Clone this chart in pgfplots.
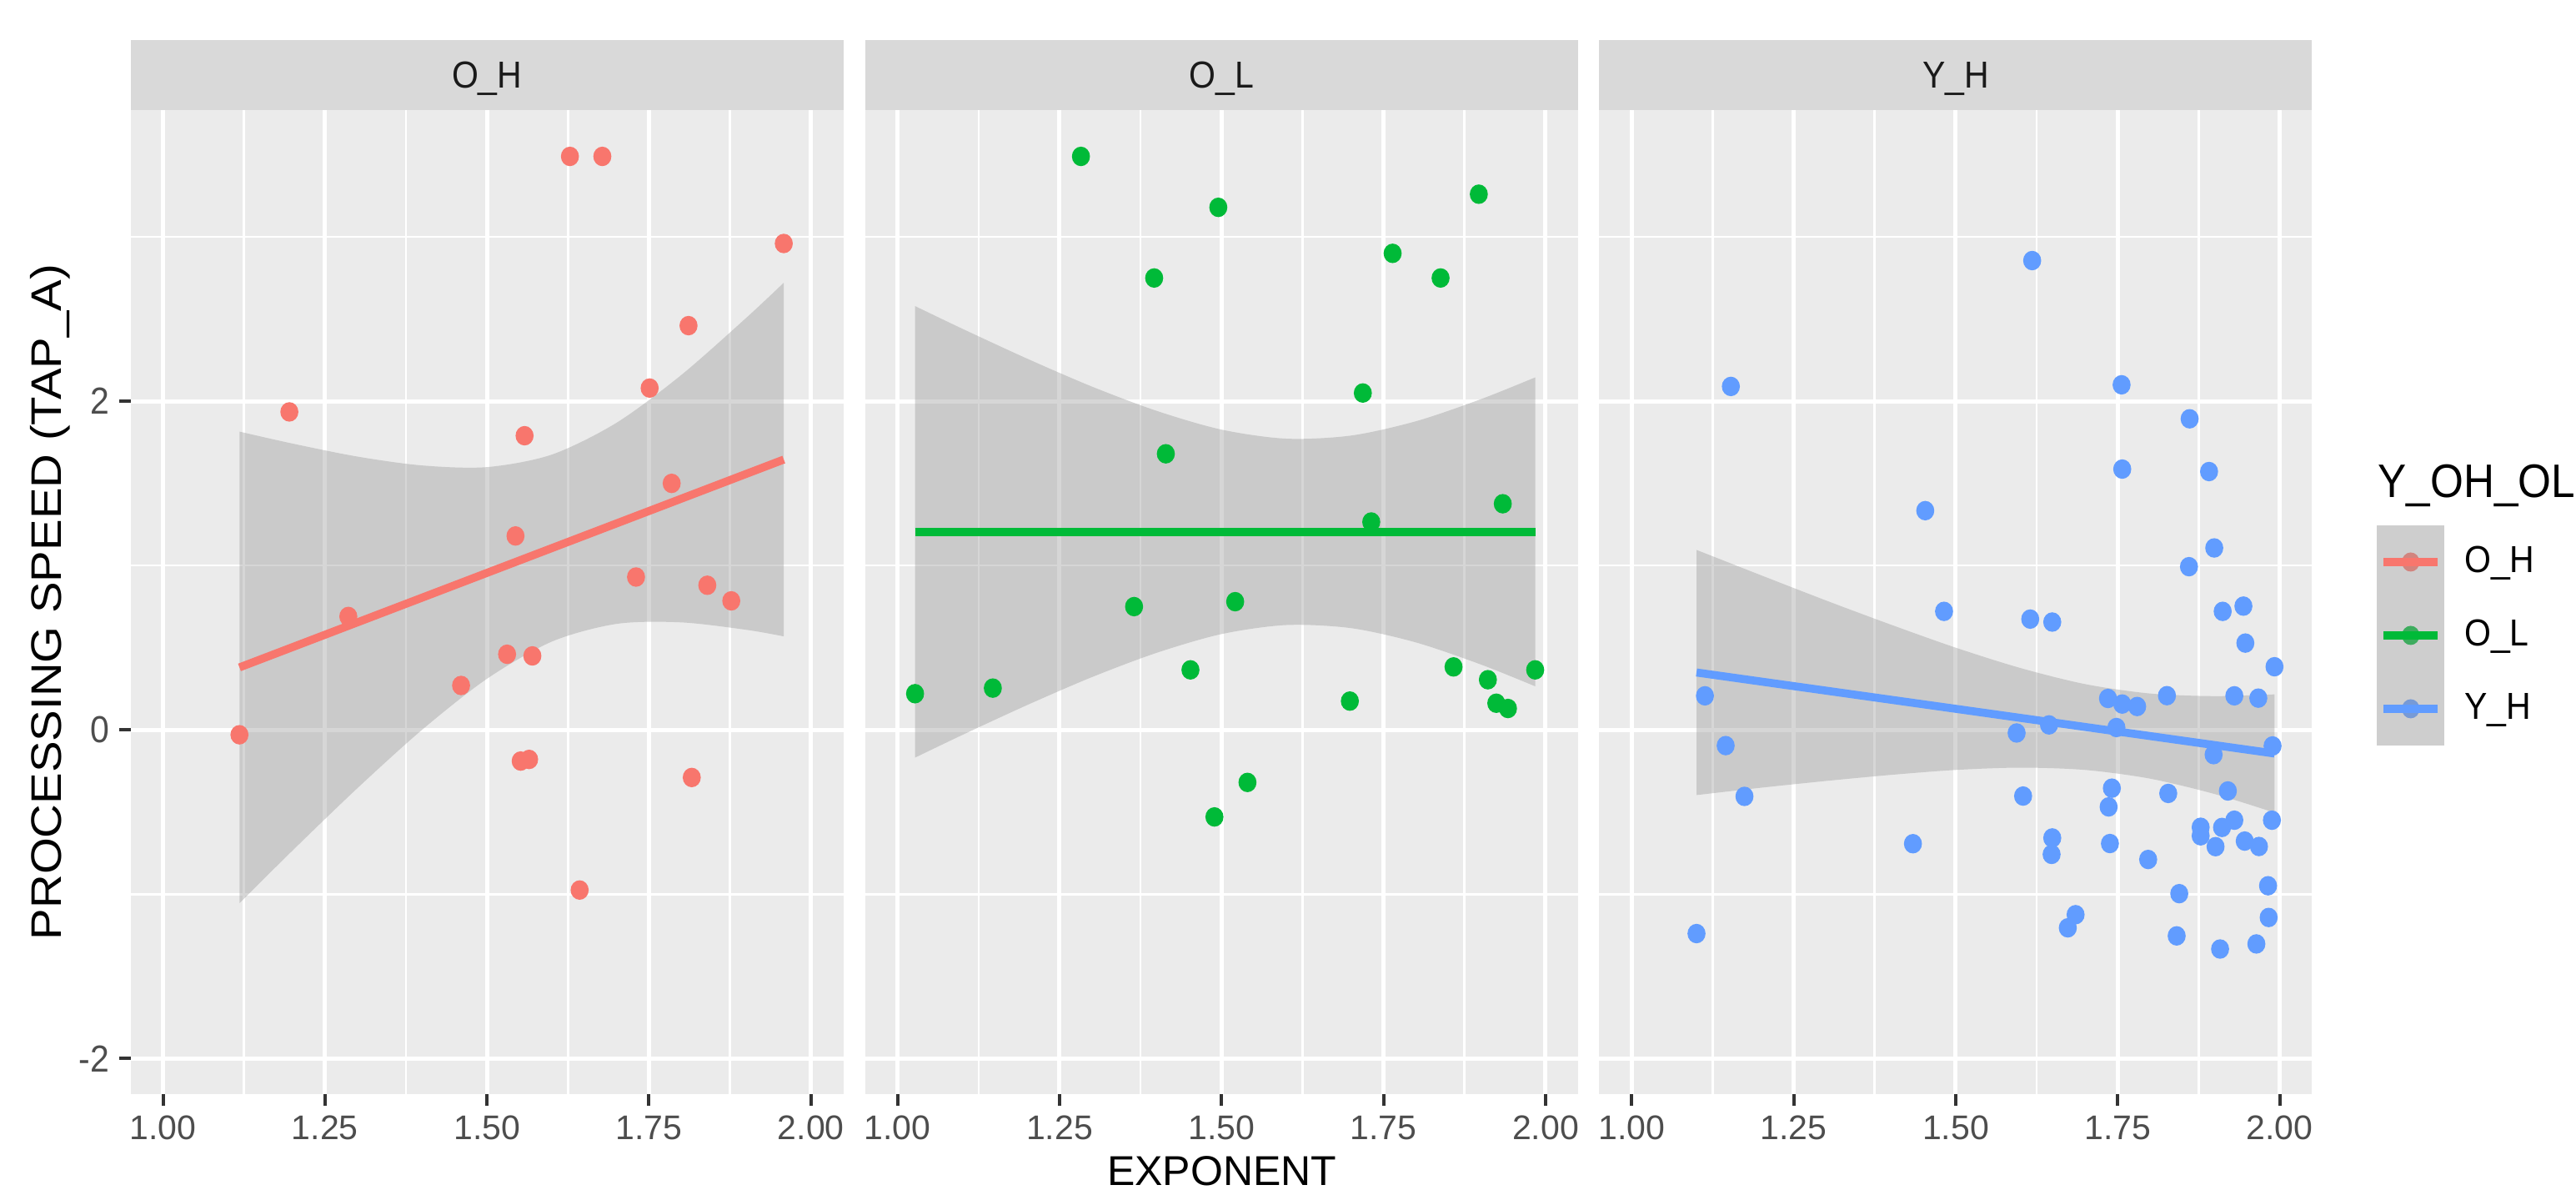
\documentclass[border=0pt]{standalone}
\usepackage{fontspec}
\setmainfont{Liberation Sans}
\usepackage{graphicx}
\usepackage{pgfplots}
\pgfplotsset{compat=1.18}
\usepgfplotslibrary{fillbetween}
\definecolor{ohcol}{HTML}{F8766D}
\definecolor{olcol}{HTML}{00BA38}
\definecolor{yhcol}{HTML}{619CFF}
\definecolor{panelbg}{HTML}{EBEBEB}
\definecolor{stripcol}{HTML}{D9D9D9}
\definecolor{striptext}{HTML}{1A1A1A}
\definecolor{ticklab}{HTML}{4D4D4D}
\definecolor{tickcol}{HTML}{333333}
\definecolor{ribbon}{HTML}{999999}
\definecolor{keybg}{HTML}{F2F2F2}
\newcommand{\tf}{\fontsize{9.84}{11.8}\selectfont}
\newcommand{\lf}{\fontsize{12.3}{14.8}\selectfont}
\newcommand{\lgd}[1]{\raisebox{0pt}[7.45pt][0pt]{\scalebox{1}[1.1]{#1}}}
\pgfplotsset{
  panel/.style={
    scale only axis, width=205.2pt, height=283.2pt, anchor=south west,
    xmin=0.95, xmax=2.05, ymin=-2.217, ymax=3.772,
    axis background/.style={fill=panelbg},
    axis line style={draw=none},
    xmajorgrids, ymajorgrids, xminorgrids, yminorgrids,
    major grid style={draw=white, line width=1.2pt},
    minor grid style={draw=white, line width=0.62pt},
    xtick={1,1.25,1.5,1.75,2}, xticklabels={1.00,1.25,1.50,1.75,2.00},
    minor xtick={1.125,1.375,1.625,1.875},
    ytick={-2,0,2}, yticklabels={-2,0,2},
    minor ytick={-1,1,3},
    tick pos=left, tick align=outside,
    major tick length=3.36pt, minor tick length=0pt,
    major tick style={draw=tickcol, line width=0.96pt},
    xticklabel style={font=\tf, text=ticklab, inner sep=0pt, anchor=north, yshift=-2.7pt},
    yticklabel style={font=\tf, text=ticklab, inner sep=0pt, anchor=east, yscale=1.1, xshift=-2.6pt},
  },
  pts/.style={only marks, mark=*, mark size=2.6pt, color=#1,
    mark options={draw=#1, draw opacity=0, fill=#1, line width=0pt, yscale=1.08}},
  fit/.style={#1, line width=2.3pt},
  band/.style={draw=none, fill=ribbon, fill opacity=0.4},
  key/.style={legend image code/.code={
    \fill[keybg, draw=none] (0pt,-10.56pt) rectangle (19.51pt,10.56pt);
    \fill[#1, draw=none] (9.755pt,0pt) ellipse [x radius=2.55pt, y radius=2.76pt];
    \fill[ribbon, draw=none, fill opacity=0.4] (0pt,-10.56pt) rectangle (19.51pt,10.56pt);
    \draw[#1, line width=2.3pt] (2pt,0pt) -- (17.5pt,0pt);}},
}
\begin{document}
\begin{tikzpicture}

% ---------------- Panel O_H ----------------
\begin{axis}[panel, at={(37.6pt,28.8pt)}]
\addplot[pts=ohcol] coordinates {
(1.118,-0.03) (1.195,1.935) (1.286,0.69) (1.460,0.27) (1.544,1.18) (1.531,0.46)
(1.558,1.79) (1.570,0.45) (1.552,-0.19) (1.565,-0.18) (1.628,3.49) (1.678,3.49)
(1.643,-0.975) (1.730,0.93) (1.751,2.08) (1.785,1.50) (1.811,2.46) (1.816,-0.29)
(1.840,0.88) (1.877,0.785) (1.958,2.96)};
\addplot[name path=u1, draw=none, smooth] coordinates {
(1.118,1.815) (1.2,1.742) (1.3,1.663) (1.4,1.609) (1.5,1.599) (1.6,1.675) (1.7,1.869) (1.8,2.160) (1.9,2.507) (1.958,2.721)};
\addplot[name path=l1, draw=none, smooth] coordinates {
(1.118,-1.055) (1.2,-0.734) (1.3,-0.355) (1.4,0.001) (1.5,0.311) (1.6,0.537) (1.7,0.645) (1.8,0.654) (1.9,0.609) (1.958,0.569)};
\addplot[band] fill between[of=u1 and l1];
\addplot[fit=ohcol] coordinates {(1.118,0.380) (1.958,1.645)};
\end{axis}

% ---------------- Panel O_L ----------------
\begin{axis}[panel, at={(249.07pt,28.8pt)}, ymajorticks=false]
\addplot[pts=olcol] coordinates {
(1.027,0.22) (1.147,0.254) (1.283,3.49) (1.365,0.75) (1.396,2.75) (1.414,1.68)
(1.452,0.365) (1.495,3.18) (1.489,-0.53) (1.521,0.78) (1.540,-0.32) (1.698,0.175)
(1.718,2.05) (1.731,1.265) (1.764,2.90) (1.838,2.75) (1.858,0.383) (1.897,3.26)
(1.911,0.305) (1.934,1.376) (1.924,0.162) (1.942,0.13) (1.984,0.365)};
\addplot[name path=u2, draw=none, smooth] coordinates {
(1.027,2.579) (1.1,2.441) (1.2,2.259) (1.3,2.089) (1.4,1.941) (1.5,1.827) (1.6,1.772) (1.7,1.791) (1.8,1.878) (1.9,2.012) (1.984,2.145)};
\addplot[name path=l2, draw=none, smooth] coordinates {
(1.027,-0.169) (1.1,-0.031) (1.2,0.151) (1.3,0.321) (1.4,0.469) (1.5,0.583) (1.6,0.638) (1.7,0.619) (1.8,0.532) (1.9,0.398) (1.984,0.265)};
\addplot[band] fill between[of=u2 and l2];
\addplot[fit=olcol] coordinates {(1.027,1.205) (1.984,1.205)};
\end{axis}

% ---------------- Panel Y_H ----------------
\begin{axis}[panel, at={(460.42pt,28.8pt)}, ymajorticks=false,
  legend style={at={(rel axis cs:1.0908,0.578)}, anchor=north west, draw=none, fill=none,
    inner sep=0pt, outer sep=0pt, row sep=0pt, column sep=5.74pt, font=\tf,
    cells={anchor=west}, nodes={inner sep=0pt, outer sep=0pt}}]
\addlegendimage{key=ohcol}
\addlegendentry{\lgd{O\_H}}
\addlegendimage{key=olcol}
\addlegendentry{\lgd{O\_L}}
\addlegendimage{key=yhcol}
\addlegendentry{\lgd{Y\_H}}
\addplot[pts=yhcol, forget plot] coordinates {
(1.100,-1.240) (1.113,0.207) (1.145,-0.096) (1.153,2.090) (1.174,-0.405) (1.434,-0.693) (1.453,1.334)
(1.482,0.721) (1.594,-0.019) (1.604,-0.403) (1.615,0.674) (1.618,2.856) (1.644,0.030) (1.648,-0.758)
(1.649,-0.658) (1.649,0.656) (1.673,-1.205) (1.685,-1.125)
(1.735,0.191) (1.736,-0.469) (1.738,-0.692) (1.741,-0.355) (1.748,0.014) (1.756,2.100) (1.757,1.587)
(1.757,0.157) (1.780,0.142) (1.797,-0.789)
(1.826,0.208) (1.828,-0.387) (1.841,-1.254) (1.845,-0.997) (1.860,0.993) (1.861,1.893) (1.878,-0.593)
(1.878,-0.645) (1.891,1.572) (1.898,-0.151) (1.899,1.107) (1.901,-0.711) (1.908,-1.334) (1.911,-0.594)
(1.912,0.721) (1.920,-0.372) (1.930,0.207) (1.930,-0.550) (1.944,0.753) (1.946,-0.677) (1.947,0.528)
(1.964,-1.303) (1.967,0.193) (1.968,-0.710) (1.982,-0.949) (1.983,-1.142) (1.988,-0.550) (1.989,-0.098)
(1.992,0.384)};
\addplot[name path=u3, draw=none, smooth, forget plot] coordinates {
(1.1,1.095) (1.2,0.940) (1.3,0.787) (1.4,0.640) (1.5,0.500) (1.6,0.376) (1.7,0.278) (1.8,0.221) (1.9,0.205) (1.992,0.216)};
\addplot[name path=l3, draw=none, smooth, forget plot] coordinates {
(1.1,-0.397) (1.2,-0.352) (1.3,-0.311) (1.4,-0.274) (1.5,-0.244) (1.6,-0.230) (1.7,-0.244) (1.8,-0.297) (1.9,-0.391) (1.992,-0.504)};
\addplot[band, forget plot] fill between[of=u3 and l3];
\addplot[fit=yhcol, forget plot] coordinates {(1.100,0.349) (1.992,-0.144)};
\end{axis}

% ---------------- strips ----------------
\fill[stripcol] (37.6pt,312pt) rectangle (242.8pt,332.16pt);
\fill[stripcol] (249.07pt,312pt) rectangle (454.27pt,332.16pt);
\fill[stripcol] (460.42pt,312pt) rectangle (665.62pt,332.16pt);
\node[anchor=base, font=\tf, text=striptext, yscale=1.1, inner sep=0pt] at (140.2pt,318.24pt) {O\_H};
\node[anchor=base, font=\tf, text=striptext, yscale=1.1, inner sep=0pt] at (351.67pt,318.24pt) {O\_L};
\node[anchor=base, font=\tf, text=striptext, yscale=1.1, inner sep=0pt] at (563.02pt,318.24pt) {Y\_H};

% ---------------- titles ----------------
\node[anchor=base, inner sep=0pt] at (351.77pt,2.6pt) {\fontsize{12}{14.4}\selectfont EXPONENT};
\node[rotate=90, anchor=base, inner sep=0pt] at (17.6pt,170.4pt) {\scalebox{1.1}[1]{\lf PROCESSING SPEED (TAP\_A)}};
\node[anchor=base west, inner sep=0pt, yscale=1.1] at (684.4pt,200.47pt) {\lf Y\_OH\_OL};

\pgfresetboundingbox
\useasboundingbox (0,0) rectangle (741.6pt,343.68pt);
\end{tikzpicture}
\end{document}
